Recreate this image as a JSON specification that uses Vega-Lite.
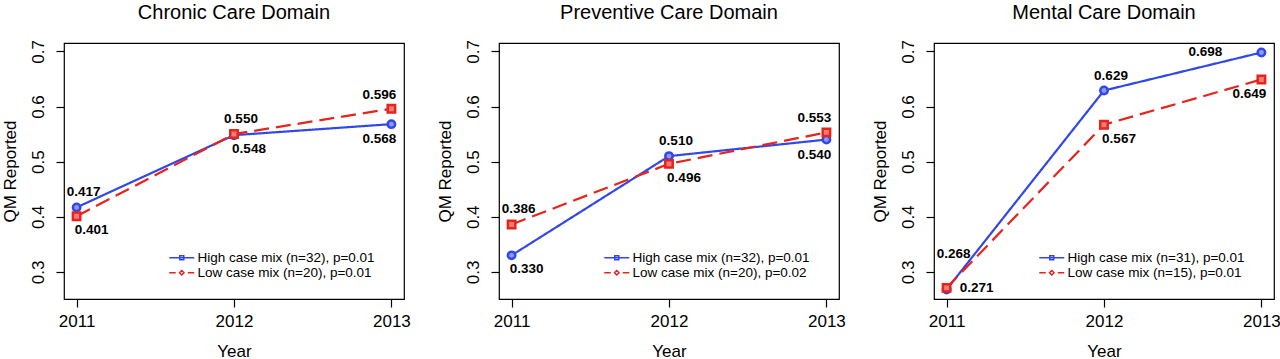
{
  "$schema": "https://vega.github.io/schema/vega-lite/v6.json",
  "background": "white",
  "padding": {"left": 0, "top": 1, "right": 4, "bottom": 0},
  "config": {
    "font": "Liberation Sans",
    "view": {"stroke": "black", "strokeWidth": 1.2},
    "axis": {"grid": false, "domain": false, "tickColor": "black", "tickSize": 8, "tickWidth": 1.2, "labelFont": "Liberation Sans", "labelFontSize": 17, "labelColor": "black", "titleFont": "Liberation Sans", "titleFontSize": 17, "titleFontWeight": "normal", "titleColor": "black"},
    "title": {"font": "Liberation Sans", "fontSize": 20, "fontWeight": "normal", "color": "black", "offset": 17},
    "legend": {"labelFont": "Liberation Sans", "labelFontSize": 13.5, "labelColor": "black", "labelLimit": 0}
  },
  "data": {"values": [
    {"panel": "Chronic", "series": "High case mix (n=32), p=0.01", "year": 2011, "value": 0.417},
    {"panel": "Chronic", "series": "High case mix (n=32), p=0.01", "year": 2012, "value": 0.548},
    {"panel": "Chronic", "series": "High case mix (n=32), p=0.01", "year": 2013, "value": 0.568},
    {"panel": "Chronic", "series": "Low case mix (n=20), p=0.01", "year": 2011, "value": 0.401},
    {"panel": "Chronic", "series": "Low case mix (n=20), p=0.01", "year": 2012, "value": 0.550},
    {"panel": "Chronic", "series": "Low case mix (n=20), p=0.01", "year": 2013, "value": 0.596},
    {"panel": "Preventive", "series": "High case mix (n=32), p=0.01", "year": 2011, "value": 0.330},
    {"panel": "Preventive", "series": "High case mix (n=32), p=0.01", "year": 2012, "value": 0.510},
    {"panel": "Preventive", "series": "High case mix (n=32), p=0.01", "year": 2013, "value": 0.540},
    {"panel": "Preventive", "series": "Low case mix (n=20), p=0.02", "year": 2011, "value": 0.386},
    {"panel": "Preventive", "series": "Low case mix (n=20), p=0.02", "year": 2012, "value": 0.496},
    {"panel": "Preventive", "series": "Low case mix (n=20), p=0.02", "year": 2013, "value": 0.553},
    {"panel": "Mental", "series": "High case mix (n=31), p=0.01", "year": 2011, "value": 0.268},
    {"panel": "Mental", "series": "High case mix (n=31), p=0.01", "year": 2012, "value": 0.629},
    {"panel": "Mental", "series": "High case mix (n=31), p=0.01", "year": 2013, "value": 0.698},
    {"panel": "Mental", "series": "Low case mix (n=15), p=0.01", "year": 2011, "value": 0.271},
    {"panel": "Mental", "series": "Low case mix (n=15), p=0.01", "year": 2012, "value": 0.567},
    {"panel": "Mental", "series": "Low case mix (n=15), p=0.01", "year": 2013, "value": 0.649}
  ]},
  "transform": [
    {"window": [{"op": "row_number", "as": "rank"}], "groupby": ["panel", "year"], "sort": [{"field": "value", "order": "descending"}]}
  ],
  "bounds": "flush",
  "spacing": 95,
  "resolve": {"scale": {"color": "independent", "strokeDash": "independent"}},
  "hconcat": [
    {
      "title": "Chronic Care Domain",
      "width": 340, "height": 256,
      "transform": [{"filter": "datum.panel === 'Chronic'"}],
      "encoding": {
        "x": {"field": "year", "type": "quantitative", "scale": {"domain": [2010.92, 2013.08], "nice": false, "zero": false}, "axis": {"values": [2011, 2012, 2013], "format": "d", "title": "Year", "labelPadding": 6, "titlePadding": 14}},
        "y": {"field": "value", "type": "quantitative", "scale": {"domain": [0.2508, 0.7152], "nice": false, "zero": false}, "axis": {"values": [0.3, 0.4, 0.5, 0.6, 0.7], "format": ".1f", "title": "QM Reported", "labelAngle": -90, "labelAlign": "center", "labelBaseline": "bottom", "labelPadding": 9, "titlePadding": 10}}
      },
      "layer": [
        {"mark": {"type": "line", "strokeWidth": 2.2},
         "encoding": {
           "color": {"field": "series", "type": "nominal", "scale": {"range": ["#3247e8", "#e8231c"]}, "legend": {"title": null, "orient": "none", "legendX": 111, "legendY": 208, "symbolType": "M-2.5,0H2.5M-0.4,-0.4H0.4V0.4H-0.4Z", "symbolSize": 100, "symbolFillColor": "white", "rowPadding": 0, "labelOffset": 9, "encode": {"symbols": {"update": {"fill": {"value": "white"}, "strokeWidth": {"value": 1.5}, "shape": {"signal": "indexof(datum.value, 'Low') === 0 ? 'M-2.5,0H-1.2M1.2,0H2.5M-0.45,0L0,-0.45L0.45,0L0,0.45Z' : 'M-2.5,0H2.5M-0.4,-0.4H0.4V0.4H-0.4Z'"}}}}}},
           "strokeDash": {"field": "series", "type": "nominal", "scale": {"range": [[1, 0], [15, 7]]}, "legend": null}
         }},
        {"transform": [{"filter": "indexof(datum.series, 'High') === 0"}], "mark": {"type": "point", "shape": "circle", "filled": false, "fill": "#8e9af2", "fillOpacity": 1, "strokeWidth": 2.5, "size": 55, "opacity": 1}, "encoding": {"color": {"field": "series", "type": "nominal"}}},
        {"transform": [{"filter": "indexof(datum.series, 'Low') === 0"}], "mark": {"type": "point", "shape": "square", "filled": false, "fill": "#f07c76", "fillOpacity": 1, "strokeWidth": 2.5, "size": 55, "opacity": 1}, "encoding": {"color": {"field": "series", "type": "nominal"}}},
        {"transform": [{"filter": "datum.year < 2013 && datum.rank === 1 && datum.value >= 0.3"}], "mark": {"type": "text", "fontWeight": "bold", "fontSize": 13.5, "dx": 7, "dy": -15, "color": "black"}, "encoding": {"text": {"field": "value", "format": ".3f"}}},
        {"transform": [{"filter": "datum.year < 2013 && datum.rank === 2 && datum.value < 0.3"}], "mark": {"type": "text", "fontWeight": "bold", "fontSize": 13.5, "dx": 7, "dy": -36, "color": "black"}, "encoding": {"text": {"field": "value", "format": ".3f"}}},
        {"transform": [{"filter": "datum.year < 2013 && datum.rank === 2 && datum.value >= 0.3"}], "mark": {"type": "text", "fontWeight": "bold", "fontSize": 13.5, "dx": 15, "dy": 14, "color": "black"}, "encoding": {"text": {"field": "value", "format": ".3f"}}},
        {"transform": [{"filter": "datum.year < 2013 && datum.rank === 1 && datum.value < 0.3"}], "mark": {"type": "text", "fontWeight": "bold", "fontSize": 13.5, "dx": 30, "dy": 0, "color": "black"}, "encoding": {"text": {"field": "value", "format": ".3f"}}},
        {"transform": [{"filter": "datum.year === 2013 && datum.rank === 1 && datum.value < 0.68"}], "mark": {"type": "text", "fontWeight": "bold", "fontSize": 13.5, "dx": -12, "dy": -14, "color": "black"}, "encoding": {"text": {"field": "value", "format": ".3f"}}},
        {"transform": [{"filter": "datum.year === 2013 && datum.rank === 1 && datum.value >= 0.68"}], "mark": {"type": "text", "fontWeight": "bold", "fontSize": 13.5, "dx": -56, "dy": 0, "color": "black"}, "encoding": {"text": {"field": "value", "format": ".3f"}}},
        {"transform": [{"filter": "datum.year === 2013 && datum.rank === 2"}], "mark": {"type": "text", "fontWeight": "bold", "fontSize": 13.5, "dx": -12, "dy": 15, "color": "black"}, "encoding": {"text": {"field": "value", "format": ".3f"}}}
      ]
    },
    {
      "title": "Preventive Care Domain",
      "width": 340, "height": 256,
      "transform": [{"filter": "datum.panel === 'Preventive'"}],
      "encoding": {
        "x": {"field": "year", "type": "quantitative", "scale": {"domain": [2010.92, 2013.08], "nice": false, "zero": false}, "axis": {"values": [2011, 2012, 2013], "format": "d", "title": "Year", "labelPadding": 6, "titlePadding": 14}},
        "y": {"field": "value", "type": "quantitative", "scale": {"domain": [0.2508, 0.7152], "nice": false, "zero": false}, "axis": {"values": [0.3, 0.4, 0.5, 0.6, 0.7], "format": ".1f", "title": "QM Reported", "labelAngle": -90, "labelAlign": "center", "labelBaseline": "bottom", "labelPadding": 9, "titlePadding": 10}}
      },
      "layer": [
        {"mark": {"type": "line", "strokeWidth": 2.2},
         "encoding": {
           "color": {"field": "series", "type": "nominal", "scale": {"range": ["#3247e8", "#e8231c"]}, "legend": {"title": null, "orient": "none", "legendX": 111, "legendY": 208, "symbolType": "M-2.5,0H2.5M-0.4,-0.4H0.4V0.4H-0.4Z", "symbolSize": 100, "symbolFillColor": "white", "rowPadding": 0, "labelOffset": 9, "encode": {"symbols": {"update": {"fill": {"value": "white"}, "strokeWidth": {"value": 1.5}, "shape": {"signal": "indexof(datum.value, 'Low') === 0 ? 'M-2.5,0H-1.2M1.2,0H2.5M-0.45,0L0,-0.45L0.45,0L0,0.45Z' : 'M-2.5,0H2.5M-0.4,-0.4H0.4V0.4H-0.4Z'"}}}}}},
           "strokeDash": {"field": "series", "type": "nominal", "scale": {"range": [[1, 0], [15, 7]]}, "legend": null}
         }},
        {"transform": [{"filter": "indexof(datum.series, 'High') === 0"}], "mark": {"type": "point", "shape": "circle", "filled": false, "fill": "#8e9af2", "fillOpacity": 1, "strokeWidth": 2.5, "size": 55, "opacity": 1}, "encoding": {"color": {"field": "series", "type": "nominal"}}},
        {"transform": [{"filter": "indexof(datum.series, 'Low') === 0"}], "mark": {"type": "point", "shape": "square", "filled": false, "fill": "#f07c76", "fillOpacity": 1, "strokeWidth": 2.5, "size": 55, "opacity": 1}, "encoding": {"color": {"field": "series", "type": "nominal"}}},
        {"transform": [{"filter": "datum.year < 2013 && datum.rank === 1 && datum.value >= 0.3"}], "mark": {"type": "text", "fontWeight": "bold", "fontSize": 13.5, "dx": 7, "dy": -15, "color": "black"}, "encoding": {"text": {"field": "value", "format": ".3f"}}},
        {"transform": [{"filter": "datum.year < 2013 && datum.rank === 2 && datum.value < 0.3"}], "mark": {"type": "text", "fontWeight": "bold", "fontSize": 13.5, "dx": 7, "dy": -36, "color": "black"}, "encoding": {"text": {"field": "value", "format": ".3f"}}},
        {"transform": [{"filter": "datum.year < 2013 && datum.rank === 2 && datum.value >= 0.3"}], "mark": {"type": "text", "fontWeight": "bold", "fontSize": 13.5, "dx": 15, "dy": 14, "color": "black"}, "encoding": {"text": {"field": "value", "format": ".3f"}}},
        {"transform": [{"filter": "datum.year < 2013 && datum.rank === 1 && datum.value < 0.3"}], "mark": {"type": "text", "fontWeight": "bold", "fontSize": 13.5, "dx": 30, "dy": 0, "color": "black"}, "encoding": {"text": {"field": "value", "format": ".3f"}}},
        {"transform": [{"filter": "datum.year === 2013 && datum.rank === 1 && datum.value < 0.68"}], "mark": {"type": "text", "fontWeight": "bold", "fontSize": 13.5, "dx": -12, "dy": -14, "color": "black"}, "encoding": {"text": {"field": "value", "format": ".3f"}}},
        {"transform": [{"filter": "datum.year === 2013 && datum.rank === 1 && datum.value >= 0.68"}], "mark": {"type": "text", "fontWeight": "bold", "fontSize": 13.5, "dx": -56, "dy": 0, "color": "black"}, "encoding": {"text": {"field": "value", "format": ".3f"}}},
        {"transform": [{"filter": "datum.year === 2013 && datum.rank === 2"}], "mark": {"type": "text", "fontWeight": "bold", "fontSize": 13.5, "dx": -12, "dy": 15, "color": "black"}, "encoding": {"text": {"field": "value", "format": ".3f"}}}
      ]
    },
    {
      "title": "Mental Care Domain",
      "width": 340, "height": 256,
      "transform": [{"filter": "datum.panel === 'Mental'"}],
      "encoding": {
        "x": {"field": "year", "type": "quantitative", "scale": {"domain": [2010.92, 2013.08], "nice": false, "zero": false}, "axis": {"values": [2011, 2012, 2013], "format": "d", "title": "Year", "labelPadding": 6, "titlePadding": 14}},
        "y": {"field": "value", "type": "quantitative", "scale": {"domain": [0.2508, 0.7152], "nice": false, "zero": false}, "axis": {"values": [0.3, 0.4, 0.5, 0.6, 0.7], "format": ".1f", "title": "QM Reported", "labelAngle": -90, "labelAlign": "center", "labelBaseline": "bottom", "labelPadding": 9, "titlePadding": 10}}
      },
      "layer": [
        {"mark": {"type": "line", "strokeWidth": 2.2},
         "encoding": {
           "color": {"field": "series", "type": "nominal", "scale": {"range": ["#3247e8", "#e8231c"]}, "legend": {"title": null, "orient": "none", "legendX": 111, "legendY": 208, "symbolType": "M-2.5,0H2.5M-0.4,-0.4H0.4V0.4H-0.4Z", "symbolSize": 100, "symbolFillColor": "white", "rowPadding": 0, "labelOffset": 9, "encode": {"symbols": {"update": {"fill": {"value": "white"}, "strokeWidth": {"value": 1.5}, "shape": {"signal": "indexof(datum.value, 'Low') === 0 ? 'M-2.5,0H-1.2M1.2,0H2.5M-0.45,0L0,-0.45L0.45,0L0,0.45Z' : 'M-2.5,0H2.5M-0.4,-0.4H0.4V0.4H-0.4Z'"}}}}}},
           "strokeDash": {"field": "series", "type": "nominal", "scale": {"range": [[1, 0], [15, 7]]}, "legend": null}
         }},
        {"transform": [{"filter": "indexof(datum.series, 'High') === 0"}], "mark": {"type": "point", "shape": "circle", "filled": false, "fill": "#8e9af2", "fillOpacity": 1, "strokeWidth": 2.5, "size": 55, "opacity": 1}, "encoding": {"color": {"field": "series", "type": "nominal"}}},
        {"transform": [{"filter": "indexof(datum.series, 'Low') === 0"}], "mark": {"type": "point", "shape": "square", "filled": false, "fill": "#f07c76", "fillOpacity": 1, "strokeWidth": 2.5, "size": 55, "opacity": 1}, "encoding": {"color": {"field": "series", "type": "nominal"}}},
        {"transform": [{"filter": "datum.year < 2013 && datum.rank === 1 && datum.value >= 0.3"}], "mark": {"type": "text", "fontWeight": "bold", "fontSize": 13.5, "dx": 7, "dy": -15, "color": "black"}, "encoding": {"text": {"field": "value", "format": ".3f"}}},
        {"transform": [{"filter": "datum.year < 2013 && datum.rank === 2 && datum.value < 0.3"}], "mark": {"type": "text", "fontWeight": "bold", "fontSize": 13.5, "dx": 7, "dy": -36, "color": "black"}, "encoding": {"text": {"field": "value", "format": ".3f"}}},
        {"transform": [{"filter": "datum.year < 2013 && datum.rank === 2 && datum.value >= 0.3"}], "mark": {"type": "text", "fontWeight": "bold", "fontSize": 13.5, "dx": 15, "dy": 14, "color": "black"}, "encoding": {"text": {"field": "value", "format": ".3f"}}},
        {"transform": [{"filter": "datum.year < 2013 && datum.rank === 1 && datum.value < 0.3"}], "mark": {"type": "text", "fontWeight": "bold", "fontSize": 13.5, "dx": 30, "dy": 0, "color": "black"}, "encoding": {"text": {"field": "value", "format": ".3f"}}},
        {"transform": [{"filter": "datum.year === 2013 && datum.rank === 1 && datum.value < 0.68"}], "mark": {"type": "text", "fontWeight": "bold", "fontSize": 13.5, "dx": -12, "dy": -14, "color": "black"}, "encoding": {"text": {"field": "value", "format": ".3f"}}},
        {"transform": [{"filter": "datum.year === 2013 && datum.rank === 1 && datum.value >= 0.68"}], "mark": {"type": "text", "fontWeight": "bold", "fontSize": 13.5, "dx": -56, "dy": 0, "color": "black"}, "encoding": {"text": {"field": "value", "format": ".3f"}}},
        {"transform": [{"filter": "datum.year === 2013 && datum.rank === 2"}], "mark": {"type": "text", "fontWeight": "bold", "fontSize": 13.5, "dx": -12, "dy": 15, "color": "black"}, "encoding": {"text": {"field": "value", "format": ".3f"}}}
      ]
    }
  ]
}
